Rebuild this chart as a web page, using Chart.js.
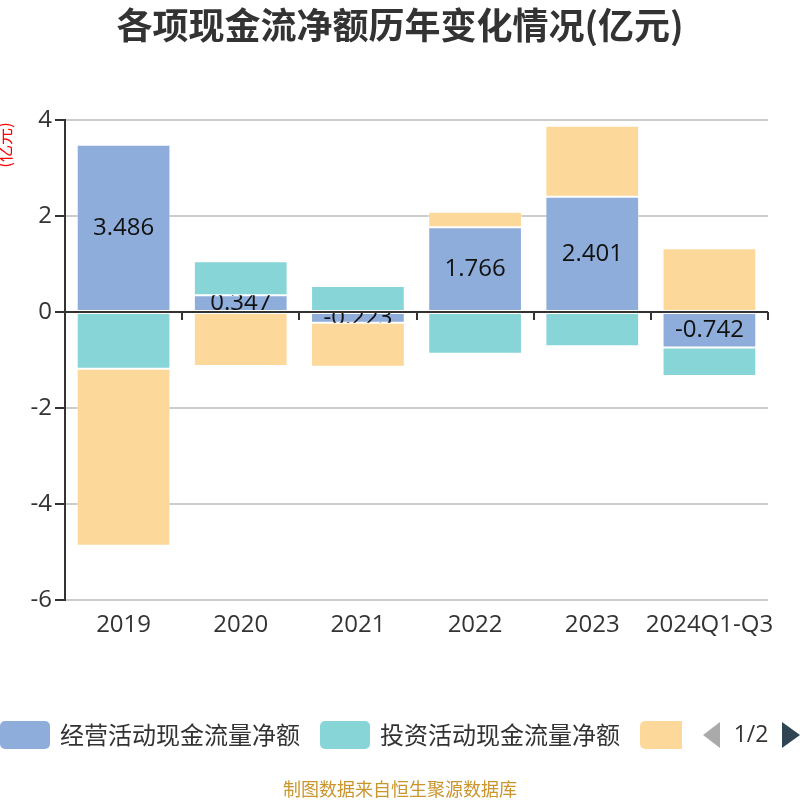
<!DOCTYPE html>
<html>
<head>
<meta charset="utf-8">
<script src="https://cdn.jsdelivr.net/npm/chart.js@4/dist/chart.umd.min.js"></script>
<style>
  html, body { margin: 0; padding: 0; background: #fff; }
</style>
</head>
<body>
<canvas id="myChart" width="800" height="800"></canvas>
<script>
const categories = ['2019', '2020', '2021', '2022', '2023', '2024Q1-Q3'];
const operating = [3.486, 0.347, -0.223, 1.766, 2.401, -0.742];
const investing = [-1.18, 0.71, 0.54, -0.87, -0.715, -0.59];
const financing = [-3.69, -1.125, -0.92, 0.32, 1.48, 1.33];
const seriesNames = ['经营活动现金流量净额', '投资活动现金流量净额', '筹资活动现金流量净额'];
const colors = ['#8eadda', '#88d5d8', '#fdd89b'];

const FONT = '"Open Sans", "Noto Sans CJK SC", sans-serif';
const CJK = '"Noto Sans CJK SC", sans-serif';

// extra drawing: title, unit, zero axis, labels, legend, footer
const decor = {
    id: 'decor',
    afterDatasetsDraw(chart) {
        const ctx = chart.ctx;
        const y = chart.scales.y;
        const area = chart.chartArea;
        const y0 = y.getPixelForValue(0);

        // zero line with category ticks
        ctx.save();
        ctx.strokeStyle = '#333';
        ctx.lineWidth = 2;
        ctx.beginPath();
        ctx.moveTo(area.left, y0);
        ctx.lineTo(area.right, y0);
        ctx.stroke();
        const w = (area.right - area.left) / categories.length;
        for (let i = 1; i <= categories.length; i++) {
            const px = Math.round(area.left + w * i);
            ctx.beginPath();
            ctx.moveTo(px, y0);
            ctx.lineTo(px, y0 + 8);
            ctx.stroke();
        }
        ctx.restore();

        // labels on operating bars, clipped to the bar
        const meta = chart.getDatasetMeta(0);
        meta.data.forEach((bar, i) => {
            const top = Math.min(bar.y, bar.base), bot = Math.max(bar.y, bar.base);
            ctx.save();
            ctx.beginPath();
            ctx.rect(bar.x - bar.width / 2, top, bar.width, bot - top);
            ctx.clip();
            ctx.fillStyle = '#111';
            ctx.font = '24px ' + FONT;
            ctx.textAlign = 'center';
            ctx.textBaseline = 'middle';
            ctx.fillText(operating[i].toString(), bar.x, (top + bot) / 2);
            ctx.restore();
        });

        // title
        ctx.save();
        ctx.fillStyle = '#333';
        ctx.font = 'bold 36px ' + CJK;
        ctx.textAlign = 'center';
        ctx.textBaseline = 'middle';
        ctx.fillText('各项现金流净额历年变化情况(亿元)', 400, 25);

        // unit
        ctx.save();
        ctx.translate(5, 145);
        ctx.rotate(-Math.PI / 2);
        ctx.fillStyle = '#ff0000';
        ctx.font = '17px ' + CJK;
        ctx.fillText('(亿元)', 0, 0);
        ctx.restore();

        // legend (first page)
        ctx.font = '24px ' + CJK;
        ctx.textAlign = 'left';
        const boxes = [[0, 0], [320, 1], [640, 2]];
        boxes.forEach(([bx, k]) => {
            ctx.fillStyle = colors[k];
            ctx.beginPath();
            ctx.roundRect(bx, 721, 50, 28, 5);
            ctx.fill();
        });
        ctx.fillStyle = '#fff';
        ctx.fillRect(682, 715, 118, 40);
        ctx.fillStyle = '#333';
        ctx.fillText(seriesNames[0], 60, 735);
        ctx.fillText(seriesNames[1], 380, 735);
        ctx.fillStyle = '#aaa';
        ctx.beginPath();
        ctx.moveTo(703, 735); ctx.lineTo(720, 722); ctx.lineTo(720, 748); ctx.closePath();
        ctx.fill();
        ctx.fillStyle = '#333';
        ctx.font = '23px ' + FONT;
        ctx.textAlign = 'center';
        ctx.fillText('1/2', 751, 735);
        ctx.fillStyle = '#2f4554';
        ctx.beginPath();
        ctx.moveTo(782, 722); ctx.lineTo(800, 735); ctx.lineTo(782, 748); ctx.closePath();
        ctx.fill();

        // footer
        ctx.fillStyle = '#c9952c';
        ctx.font = '18px ' + CJK;
        ctx.fillText('制图数据来自恒生聚源数据库', 400, 789);
        ctx.restore();
    }
};

const ctx = document.getElementById('myChart').getContext('2d');
const myChart = new Chart(ctx, {
    type: 'bar',
    data: {
        labels: categories,
        datasets: [
            { label: seriesNames[0], data: operating, backgroundColor: colors[0] },
            { label: seriesNames[1], data: investing, backgroundColor: colors[1] },
            { label: seriesNames[2], data: financing, backgroundColor: colors[2] }
        ].map(d => Object.assign(d, {
            borderColor: 'rgba(255,255,255,0.4)',
            borderWidth: 1,
            borderSkipped: false,
            barPercentage: 0.8,
            categoryPercentage: 1
        }))
    },
    options: {
        responsive: false,
        animation: false,
        layout: { padding: { top: 120, right: 32, bottom: 160, left: 0 } },
        plugins: {
            legend: { display: false },
            title: { display: false },
            tooltip: { enabled: false }
        },
        scales: {
            x: {
                stacked: true,
                afterFit: s => { s.height = 40; },
                grid: { display: false, drawTicks: false },
                border: { display: false },
                ticks: { color: '#333', font: { size: 24, family: FONT }, padding: 11, maxRotation: 0, autoSkip: false }
            },
            y: {
                stacked: true,
                min: -6,
                max: 4,
                afterFit: s => { s.width = 65; },
                grid: {
                    color: c => c.tick && c.tick.value === 0 ? 'rgba(0,0,0,0)' : '#cccccc',
                    lineWidth: 2,
                    tickColor: '#333',
                    tickLength: 10
                },
                border: { display: true, color: '#333', width: 2 },
                ticks: { stepSize: 2, color: '#333', font: { size: 24, family: FONT }, padding: 3 }
            }
        }
    },
    plugins: [decor]
});
</script>
</body>
</html>
